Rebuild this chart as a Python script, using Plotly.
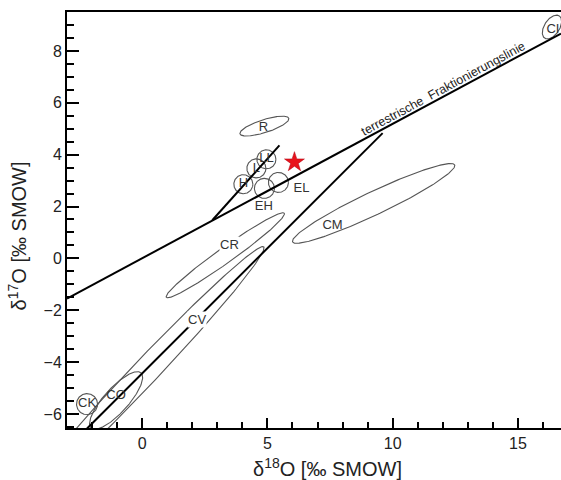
import numpy as np
import plotly.graph_objects as go

# ---- data ----
# fractionation lines (endpoints)
tfl_x = [-3.0, 16.72]
tfl_y = [-1.55, 8.67]
ccam_x = [-2.2, 9.6]
ccam_y = [-6.56, 4.83]
oc_x = [2.8, 5.48]
oc_y = [1.47, 4.36]

# elongated fields (ellipses): centre, semi-axes, rotation (deg)
ell_names = ["R", "CR", "CM", "CV", "CO", "CI"]
ell_cx = [4.88, 3.32, 9.24, -0.05, -1.04, 16.36]
ell_cy = [5.1, 0.12, 2.12, -4.55, -5.48, 8.92]
ell_a = [1.02, 2.86, 3.56, 7.0, 1.46, 0.52]
ell_b = [0.25, 0.3, 0.45, 0.5, 0.48, 0.3]
ell_ang = [17, 34.5, 24.6, 45.5, 46.7, 55]

# small circular fields
circ_names = ["H", "L", "LL", "EH", "EL", "CK"]
circ_cx = [4.04, 4.56, 4.96, 4.88, 5.44, -2.2]
circ_cy = [2.86, 3.47, 3.82, 2.70, 2.93, -5.62]
circ_r = [0.38, 0.38, 0.38, 0.4, 0.4, 0.42]

# labels
lab_text = ["R", "H", "L", "LL", "EH", "EL", "CM", "CO", "CK", "CI"]
lab_x = [4.84, 4.04, 4.56, 4.96, 4.86, 6.36, 7.6, -1.04, -2.2, 16.4]
lab_y = [5.04, 2.86, 3.47, 3.84, 2.0, 2.70, 1.24, -5.3, -5.62, 8.8]
bg_lab_text = ["CR", "CV"]
bg_lab_x = [3.48, 2.18]
bg_lab_y = [0.54, -2.34]

# sample (star)
star_x = [6.08]
star_y = [3.71]

XR = [-3.0, 16.72]
YR = [-6.54, 9.5]

FONT = "Liberation Sans, Arial, sans-serif"

fig = go.Figure()

t = np.linspace(0, 2 * np.pi, 240)
ell_col = "#555555"
for i in range(len(ell_names)):
    th = np.deg2rad(ell_ang[i])
    ex = ell_cx[i] + ell_a[i] * np.cos(t) * np.cos(th) - ell_b[i] * np.sin(t) * np.sin(th)
    ey = ell_cy[i] + ell_a[i] * np.cos(t) * np.sin(th) + ell_b[i] * np.sin(t) * np.cos(th)
    fig.add_trace(go.Scatter(x=ex, y=ey, mode="lines",
                             line=dict(color=ell_col, width=1.1), hoverinfo="skip"))

yscale = 25.0 / 25.9
for i in range(len(circ_names)):
    ex = circ_cx[i] + circ_r[i] * np.cos(t)
    ey = circ_cy[i] + circ_r[i] * yscale * np.sin(t)
    fig.add_trace(go.Scatter(x=ex, y=ey, mode="lines",
                             line=dict(color=ell_col, width=1.1), hoverinfo="skip"))

for lx, ly in [(tfl_x, tfl_y), (ccam_x, ccam_y), (oc_x, oc_y)]:
    fig.add_trace(go.Scatter(x=lx, y=ly, mode="lines",
                             line=dict(color="black", width=2), hoverinfo="skip"))

fig.add_trace(go.Scatter(x=lab_x, y=lab_y, mode="text", text=lab_text,
                         textfont=dict(family=FONT, size=13, color="#333333"),
                         hoverinfo="skip"))

for txt, x, y in zip(bg_lab_text, bg_lab_x, bg_lab_y):
    fig.add_annotation(x=x, y=y, text=txt, showarrow=False, bgcolor="white",
                       borderpad=0,
                       font=dict(family=FONT, size=13, color="#333333"))

fig.add_trace(go.Scatter(x=star_x, y=star_y, mode="markers",
                         marker=dict(symbol="star", size=15, color="#e8141c",
                                     line=dict(color="#b00010", width=0.5)),
                         hoverinfo="skip"))

fig.add_annotation(x=12.0, y=6.55, text="terrestrische  Fraktionierungslinie",
                   showarrow=False, textangle=-28.3,
                   font=dict(family=FONT, size=12.5, color="#222222"))

# axis titles
fig.add_annotation(xref="paper", yref="paper", x=0.528, y=-0.096,
                   text="δ<sup>18</sup>O [‰ SMOW]", showarrow=False,
                   xanchor="center", yanchor="middle",
                   font=dict(family=FONT, size=20, color="#222222"))
fig.add_annotation(xref="paper", yref="paper", x=-0.1, y=0.462,
                   text="δ<sup>17</sup>O [‰ SMOW]", showarrow=False,
                   textangle=-90, xanchor="center", yanchor="middle",
                   font=dict(family=FONT, size=20, color="#222222"))

axis_common = dict(showgrid=False, zeroline=False, showline=True,
                   linecolor="black", linewidth=2, ticks="inside",
                   tickcolor="black", tickwidth=2,
                   tickfont=dict(family=FONT, size=16, color="#222222"))

fig.update_layout(
    width=561, height=480,
    margin=dict(l=67, r=0, t=12, b=52),
    paper_bgcolor="white", plot_bgcolor="white",
    showlegend=False,
    xaxis=dict(range=XR, dtick=5, tick0=0, ticklen=10, mirror=True,
               minor=dict(dtick=1, ticklen=6, tickwidth=1.5, tickcolor="black", ticks="inside"),
               **axis_common),
    yaxis=dict(range=YR, dtick=2, tick0=0, ticklen=12,
               minor=dict(dtick=0.5, ticklen=7, tickwidth=1.5, tickcolor="black", ticks="inside"),
               **axis_common),
)

fig.write_html("out.html", config={"displayModeBar": False},
               post_script="document.body.style.margin='0';document.body.style.overflow='hidden';")
